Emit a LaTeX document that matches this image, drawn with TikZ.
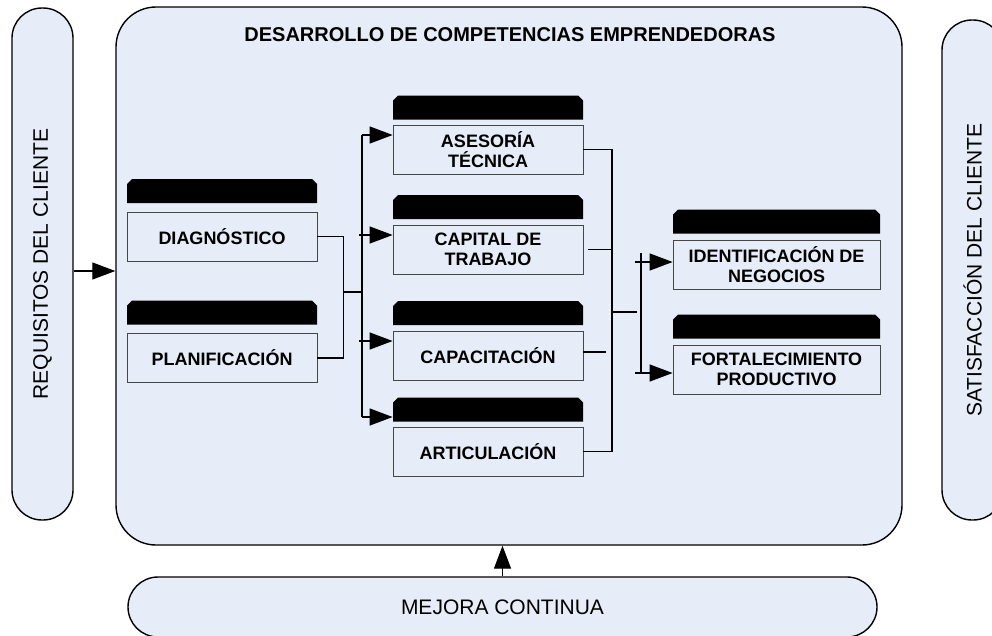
\documentclass[tikz,border=0pt]{standalone}
\usepackage{fontspec}
\setmainfont{Liberation Sans}
\usetikzlibrary{arrows.meta}
\definecolor{panel}{RGB}{230,237,248}
\definecolor{edge}{RGB}{70,70,70}
\newcommand{\tabshape}[1]{%
  \fill (#1.south west) -- ([yshift=-5pt]#1.north west) -- ([xshift=5pt]#1.north west)
    -- ([xshift=-5pt]#1.north east) -- ([yshift=-5pt]#1.north east) -- (#1.south east) -- cycle;}
\begin{document}
\begin{tikzpicture}[x=1pt,y=-1pt,
  pill/.style={draw=black,line width=1.4pt,fill=panel,inner sep=0pt},
  sidetext/.style={font=\fontsize{21}{25}\selectfont},
  tabbox/.style={inner sep=0pt,outer sep=0pt,minimum height=24pt},
  stepbox/.style={draw=edge,line width=0.8pt,fill=panel,inner sep=0pt,align=center,
    minimum height=49pt,font=\fontsize{18}{20.5}\selectfont\bfseries},
  ln/.style={line width=1.3pt},
  arr/.style={line width=1.3pt,-{Triangle[length=23pt,width=17pt]}}]
\useasboundingbox (0,0) rectangle (992,635);
\clip (0,0) rectangle (992,635);

% outer shapes
\node[pill,sidetext,rotate=90,minimum width=512pt,minimum height=61pt,rounded corners=30pt]
  (req) at (42.5,264) {REQUISITOS DEL CLIENTE};
\node[pill,sidetext,rotate=90,minimum width=500pt,minimum height=61pt,rounded corners=30pt]
  (sat) at (972.5,270) {SATISFACCIÓN DEL CLIENTE};
\node[pill,minimum width=786pt,minimum height=538pt,rounded corners=40pt]
  (main) at (509,276) {};
\node[font=\fontsize{20}{24}\selectfont\bfseries] (title) at (510,35)
  {DESARROLLO DE COMPETENCIAS EMPRENDEDORAS};
\node[pill,sidetext,minimum width=749pt,minimum height=60pt,rounded corners=30pt]
  (mej) at (502.5,607) {MEJORA CONTINUA};

% tabs
\node[tabbox,minimum width=190pt] (diagT)  at (222,191) {};
\node[tabbox,minimum width=190pt] (planT)  at (222,312.5) {};
\node[tabbox,minimum width=190pt] (asesT)  at (488,107.5) {};
\node[tabbox,minimum width=190pt] (capT)   at (488,207) {};
\node[tabbox,minimum width=190pt] (capacT) at (488,313) {};
\node[tabbox,minimum width=190pt] (articT) at (488,409.5) {};
\node[tabbox,minimum width=207pt] (identT) at (776.5,221.5) {};
\node[tabbox,minimum width=207pt] (fortT)  at (776.5,326.5) {};
\foreach \t in {diagT,planT,asesT,capT,capacT,articT,identT,fortT}{\tabshape{\t}}

% boxes
\node[stepbox,minimum width=190pt] (diag)  at (222,236.5) {DIAGNÓSTICO};
\node[stepbox,minimum width=190pt] (plan)  at (222,358) {PLANIFICACIÓN};
\node[stepbox,minimum width=190pt] (ases)  at (488,149.5) {ASESORÍA\\TÉCNICA};
\node[stepbox,minimum width=190pt] (cap)   at (488,249.5) {CAPITAL DE\\TRABAJO};
\node[stepbox,minimum width=190pt] (capac) at (488,355.5) {CAPACITACIÓN};
\node[stepbox,minimum width=190pt] (artic) at (488,451.5) {ARTICULACIÓN};
\node[stepbox,minimum width=207pt] (ident) at (776.5,264.5) {IDENTIFICACIÓN DE\\NEGOCIOS};
\node[stepbox,minimum width=207pt] (fort)  at (776.5,369.5) {FORTALECIMIENTO\\PRODUCTIVO};

% outer arrows
\coordinate (rq) at ([yshift=-7pt]req.south);
\draw[arr] (rq) -- (rq -| main.west);
\draw[arr] (mej.north) -- (mej.north |- main.south);

% left join
\draw[ln] (diag.east) -- ++(26,0) |- (plan.east);
\coordinate (j1) at (343,292);
\coordinate (j2) at (362,292);
\draw[ln] (j1) -- (j2);

% distribution bus
\coordinate (b1) at (362,135);
\coordinate (b2) at (359,235);
\coordinate (b3) at (359,341);
\coordinate (b4) at (362,417);
\draw[ln] (b1) -- (b4);
\draw[arr] (b1) -- (b1 -| ases.west);
\draw[arr] (b2) -- (b2 -| cap.west);
\draw[arr] (b3) -- (b3 -| capac.west);
\draw[arr] (b4) -- (b4 -| artic.west);

% right collection bus
\coordinate (rb) at (612,0);
\draw[ln] (ases.east) -- (ases.east -| rb) |- (artic.east);
\draw[ln] ([xshift=5pt]cap.east) -- (cap.east -| rb);
\coordinate (ce) at (606,352);
\draw[ln] (capac.east |- ce) -- (ce);
\coordinate (k1) at (612,312);
\coordinate (k2) at (637,312);
\draw[ln] (k1) -- (k2);

% output bus
\coordinate (s0) at (641,253);
\coordinate (s2) at (641,373);
\draw[ln] (s0) -- (s2);
\coordinate (a1) at (635,262);
\coordinate (a2) at (635,373);
\draw[arr] (a1) -- (a1 -| ident.west);
\draw[arr] (a2) -- (a2 -| fort.west);
\end{tikzpicture}
\end{document}
